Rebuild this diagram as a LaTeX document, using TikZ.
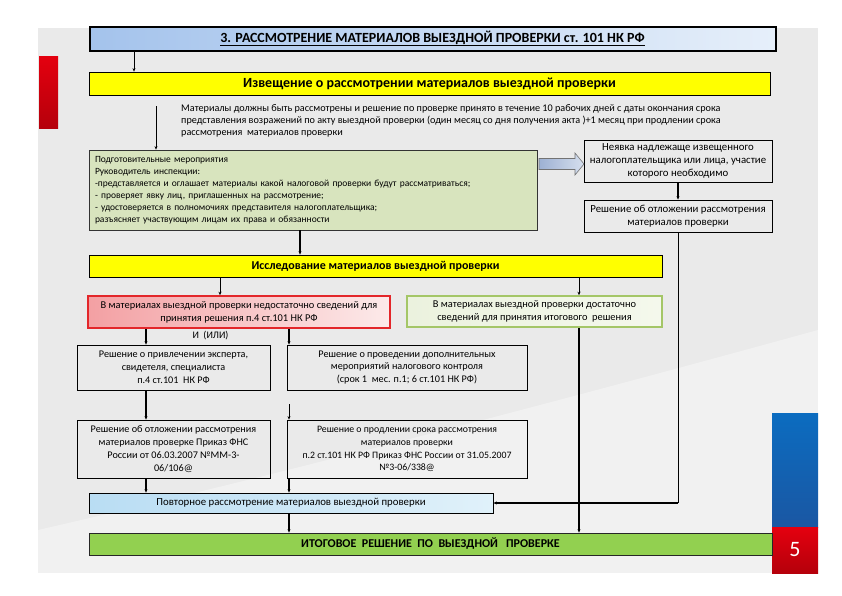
\documentclass[tikz,border=0pt]{standalone}
\usepackage{fontspec}
\setmainfont{Carlito}
\usetikzlibrary{arrows.meta}
\definecolor{panel}{HTML}{EAEAEA}
\definecolor{ttlL}{HTML}{A4C3EC}
\definecolor{ttlR}{HTML}{E6EFFA}
\definecolor{yel}{HTML}{FFFF00}
\definecolor{olive}{HTML}{D8E4BE}
\definecolor{redB}{HTML}{E3262A}
\definecolor{redL}{HTML}{F3A0A3}
\definecolor{redR}{HTML}{FCEAEA}
\definecolor{grnB}{HTML}{A4C667}
\definecolor{grnL}{HTML}{EBF2DE}
\definecolor{grnR}{HTML}{F4F8EC}
\definecolor{lbL}{HTML}{B9DDF3}
\definecolor{lbR}{HTML}{E0F1FA}
\definecolor{fin}{HTML}{92D050}
\definecolor{arrL}{HTML}{9DB1D3}
\definecolor{arrR}{HTML}{D6DFEE}
\definecolor{decoBlue}{HTML}{0B6CC0}
\definecolor{decoBlueD}{HTML}{1A57A3}
\definecolor{decoRed}{HTML}{E4000F}
\definecolor{decoRedD}{HTML}{B5000B}
\begin{document}
\begin{tikzpicture}[x=1pt,y=-1pt,
  >={Stealth[length=3.5pt,width=3pt]},
  conn/.style={draw=black,line width=0.9pt},
  boxbase/.style={draw=black,line width=0.8pt,align=center,inner sep=2pt},
  plainbox/.style={boxbase,font=\fontsize{10.2}{12.8}\selectfont},
  bar/.style={boxbase,fill=yel,font=\fontsize{14}{16}\selectfont\bfseries}
]
\useasboundingbox (0,0) rectangle (842,595);
\fill[white] (0,0) rectangle (842,595);
\fill[panel] (38,28) rectangle (818,573);
\fill[white,opacity=0.35] (38,573) -- (38,530) .. controls (300,470) and (600,390) .. (818,330) -- (818,573) -- cycle;
% decorations
\shade[top color=decoRed,bottom color=decoRedD] (39,56) rectangle (58,128);
\shade[top color=decoBlue,bottom color=decoBlueD] (772,413) rectangle (818,527);
\shade[top color=decoRed,bottom color=decoRedD] (772,527) rectangle (818,573);
\node[text=white,font=\fontsize{22}{24}\selectfont] (pagenum) at (795,550) {5};

% title
\node[draw=black,line width=2pt,left color=ttlL,right color=ttlR,minimum width=686,minimum height=24,
  font=\fontsize{14}{16}\selectfont\bfseries] (title) at (432.5,38.5)
  {\underline{3. РАССМОТРЕНИЕ МАТЕРИАЛОВ ВЫЕЗДНОЙ ПРОВЕРКИ ст. 101 НК РФ}};

\node[bar,minimum width=681,minimum height=23] (yel1) at (429.5,83.5)
  {Извещение о рассмотрении материалов выездной проверки};

\node[anchor=north west,align=left,inner sep=0pt,font=\fontsize{10.2}{12}\selectfont] (para) at (181,104)
  {Материалы должны быть рассмотрены и решение по проверке принято в течение 10 рабочих дней с даты окончания срока\\
   представления возражений по акту выездной проверки (один месяц со дня получения акта )+1 месяц при продлении срока\\
   рассмотрения \ материалов проверки};

\node[boxbase,fill=olive,draw=black!80,minimum width=448,minimum height=80,text width=436,align=left,
  font=\fontsize{9.5}{12}\selectfont] (prep) at (313,190)
  {Подготовительные мероприятия\\
   Руководитель инспекции:\\
   -представляется и оглашает материалы какой налоговой проверки будут рассматриваться;\\
   - проверяет явку лиц, приглашенных на рассмотрение;\\
   - удостоверяется в полномочиях представителя налогоплательщика;\\
   разъясняет участвующим лицам их права и обязанности};

\node[plainbox,font=\fontsize{10.8}{13}\selectfont,minimum width=188,minimum height=42,inner sep=1pt] (neyav) at (678,161)
  {Неявка надлежаще извещенного\\ налогоплательщика или лица, участие\\ которого необходимо};
\node[plainbox,font=\fontsize{10.8}{13}\selectfont,minimum width=188,minimum height=32] (otl) at (678,216)
  {Решение об отложении рассмотрения\\ материалов проверки};

% block arrow
\draw[draw=black!55,left color=arrL,right color=arrR,line width=0.6pt]
  (539,158.5) -- (575,158.5) -- (575,153) -- (584,164) -- (575,175) -- (575,169.5) -- (539,169.5) -- cycle;

\node[bar,minimum width=573,minimum height=22,font=\fontsize{12}{14}\selectfont\bfseries] (yel2) at (375.5,266)
  {Исследование материалов выездной проверки};

\node[boxbase,draw=redB,line width=1.6pt,left color=redL,right color=redR,minimum width=302,minimum height=32,
  font=\fontsize{10.4}{12.8}\selectfont] (insuf) at (239,312)
  {В материалах выездной проверки недостаточно сведений для\\ принятия решения п.4 ст.101 НК РФ};
\node[boxbase,draw=grnB,line width=1.6pt,left color=grnL,right color=grnR,minimum width=255,minimum height=31,
  font=\fontsize{10.4}{12.8}\selectfont] (suf) at (534.5,311.5)
  {В материалах выездной проверки достаточно\\ сведений для принятия итогового \ решения};

\node[font=\fontsize{10}{11}\selectfont] (andor) at (210.5,336) {И \ (ИЛИ)};

\node[plainbox,minimum width=193,minimum height=45] (expert) at (173.5,367.5)
  {Решение о привлечении эксперта,\\ свидетеля, специалиста\\ п.4 ст.101 \ НК РФ};
\node[plainbox,minimum width=240,minimum height=45] (dop) at (407,367.5)
  {Решение о проведении дополнительных\\ мероприятий налогового контроля\\ (срок 1 \ мес. п.1; 6 ст.101 НК РФ)};
\node[plainbox,minimum width=193,minimum height=58] (otl2) at (173.5,449)
  {Решение об отложении рассмотрения\\ материалов проверке Приказ ФНС\\ России от 06.03.2007 №ММ-3-\\ 06/106@};
\node[plainbox,font=\fontsize{9.8}{12.8}\selectfont,minimum width=240,minimum height=58] (prod) at (407,449)
  {Решение о продлении срока рассмотрения\\ материалов проверки\\ п.2 ст.101 НК РФ Приказ ФНС России от 31.05.2007\\ №3-06/338@};

\node[boxbase,left color=lbL,right color=lbR,minimum width=404,minimum height=20,
  font=\fontsize{10.8}{12}\selectfont] (repeat) at (291,503)
  {Повторное рассмотрение материалов выездной проверки};

\node[boxbase,fill=fin,draw=black!85,minimum width=683,minimum height=22,
  font=\fontsize{12}{14}\selectfont\bfseries] (final) at (430.5,544)
  {ИТОГОВОЕ \ РЕШЕНИЕ \ ПО \ ВЫЕЗДНОЙ \ \ ПРОВЕРКЕ};

% x positions
\coordinate (xA) at (134,0);
\coordinate (xB) at (156,0);
\coordinate (xC) at (300,0);
\coordinate (xD) at (220,0);
\coordinate (xE) at (579,0);
\coordinate (xF) at (146,0);
\coordinate (xG) at (289,0);
\coordinate (pstart) at (156,106);
\coordinate (dstart) at (289,404);
\coordinate (corner) at (678,503);

% connectors
\draw[conn,->] (title.south -| xA) -- (yel1.north -| xA);
\draw[conn,->] (pstart) -- (prep.north -| xB);
\draw[conn,->,line width=1.2pt] (prep.south -| xC) -- (yel2.north -| xC);
\draw[conn,->,line width=1.2pt] (neyav.south) -- (otl.north);
\draw[conn] (otl.south) -- (corner);
\draw[conn,->,line width=1.2pt] (corner) -- (repeat.east);
\draw[conn,->] (yel2.south -| xD) -- (insuf.north -| xD);
\draw[conn,->] (yel2.south -| xE) -- (suf.north -| xE);
\draw[conn,->,line width=1.2pt] (insuf.south -| xF) -- (expert.north -| xF);
\draw[conn,->,line width=1.2pt] (insuf.south -| xG) -- (dop.north -| xG);
\draw[conn,->,line width=1.2pt] (expert.south -| xF) -- (otl2.north -| xF);
\draw[conn,->] (dstart) -- (prod.north -| xG);
\draw[conn,->,line width=1.2pt] (otl2.south -| xF) -- (repeat.north -| xF);
\draw[conn,->,line width=1.2pt] (prod.south -| xG) -- (repeat.north -| xG);
\draw[conn,->,line width=1.2pt] (repeat.south -| xG) -- (final.north -| xG);
\draw[conn,->,line width=1.2pt] (suf.south -| xE) -- (final.north -| xE);
\end{tikzpicture}
\end{document}
